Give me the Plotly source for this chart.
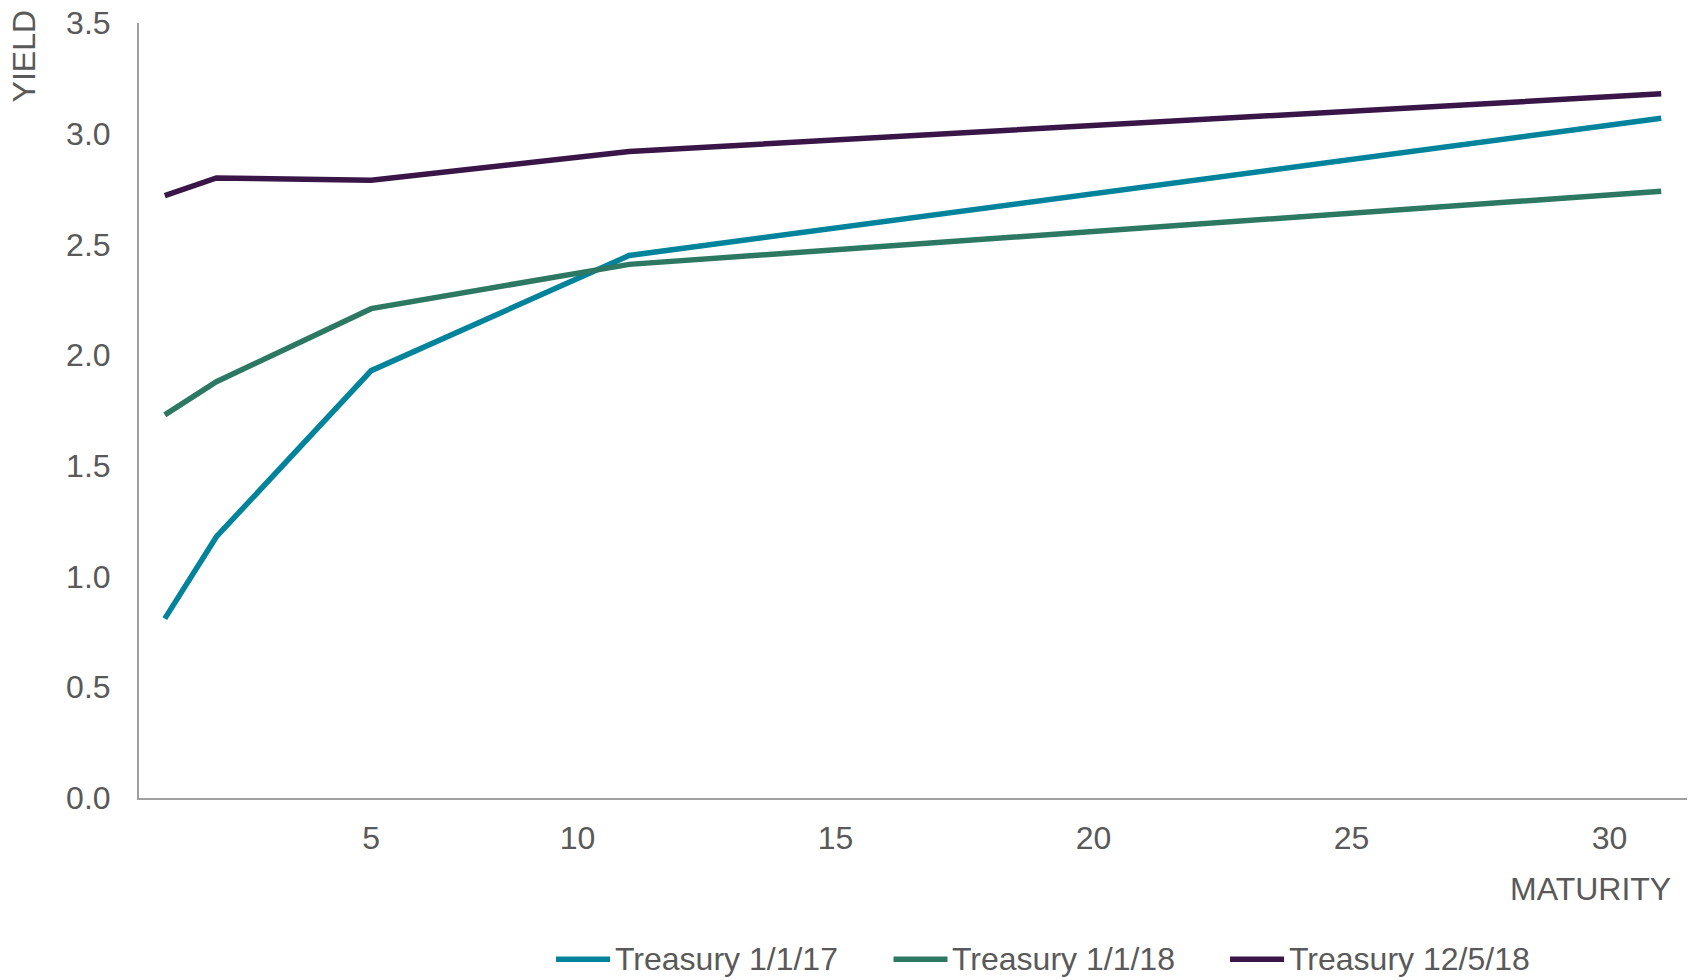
import plotly.graph_objects as go

# Treasury yield curves: maturity in years vs yield in percent
maturities = [1, 2, 5, 10, 30]
series_names = ["Treasury 1/1/17", "Treasury 1/1/18", "Treasury 12/5/18"]
yield_2017 = [0.81, 1.18, 1.93, 2.45, 3.07]
yield_2018 = [1.73, 1.88, 2.21, 2.41, 2.74]
yield_dec2018 = [2.72, 2.80, 2.79, 2.92, 3.18]
series_colors = ["#00839B", "#2D7862", "#3A1548"]

x_tick_vals = [5, 9, 14, 19, 24, 29]
x_tick_text = ["5", "10", "15", "20", "25", "30"]
y_tick_vals = [0, 0.5, 1.0, 1.5, 2.0, 2.5, 3.0, 3.5]

FONT = "Liberation Sans, Arial, sans-serif"
FONT_SIZE = 32
TEXT_COLOR = "#595959"
AXIS_COLOR = "#A0A0A0"

fig = go.Figure()
for name, ys, color in zip(series_names, [yield_2017, yield_2018, yield_dec2018], series_colors):
    fig.add_trace(go.Scatter(
        x=maturities, y=ys, name=name, mode="lines",
        line=dict(color=color, width=5.5),
        showlegend=False,
    ))

# Legend drawn below the plot: a short thick line followed by the label
legend_x = [0.2694, 0.4874, 0.7048]
shapes = []
annotations = []
for name, color, lx in zip(series_names, series_colors, legend_x):
    shapes.append(dict(type="line", xref="paper", yref="paper",
                       x0=lx, x1=lx + 0.0349, y0=-0.208, y1=-0.208,
                       line=dict(color=color, width=5.5)))
    annotations.append(dict(text=name, xref="paper", yref="paper",
                            x=lx + 0.0366, y=-0.208, xanchor="left", yanchor="middle",
                            showarrow=False, font=dict(size=FONT_SIZE, color=TEXT_COLOR, family=FONT)))

annotations.append(dict(text="YIELD", xref="paper", yref="paper",
                        x=-0.074, y=1.0, xanchor="center", yanchor="middle",
                        yshift=-33, textangle=-90, showarrow=False,
                        font=dict(size=FONT_SIZE, color=TEXT_COLOR, family=FONT)))
annotations.append(dict(text="MATURITY", xref="paper", yref="paper",
                        x=0.991, y=-0.118, xanchor="right", yanchor="middle",
                        showarrow=False, font=dict(size=FONT_SIZE, color=TEXT_COLOR, family=FONT)))

fig.update_layout(
    width=1692, height=980,
    margin=dict(l=139, r=5, t=21, b=182),
    paper_bgcolor="white", plot_bgcolor="white",
    font=dict(family=FONT, size=FONT_SIZE, color=TEXT_COLOR),
    shapes=shapes, annotations=annotations,
    xaxis=dict(range=[0.5, 30.5], tickvals=x_tick_vals, ticktext=x_tick_text,
               showgrid=False, zeroline=False, showline=True, linecolor=AXIS_COLOR,
               linewidth=2, ticks="outside", ticklen=11, tickcolor="rgba(0,0,0,0)"),
    yaxis=dict(range=[0, 3.5], tickvals=y_tick_vals, tickformat=".1f",
               showgrid=False, zeroline=False, showline=True, linecolor=AXIS_COLOR,
               linewidth=2, ticks="outside", ticklen=20, tickcolor="rgba(0,0,0,0)"),
)

fig.write_html("out.html")
